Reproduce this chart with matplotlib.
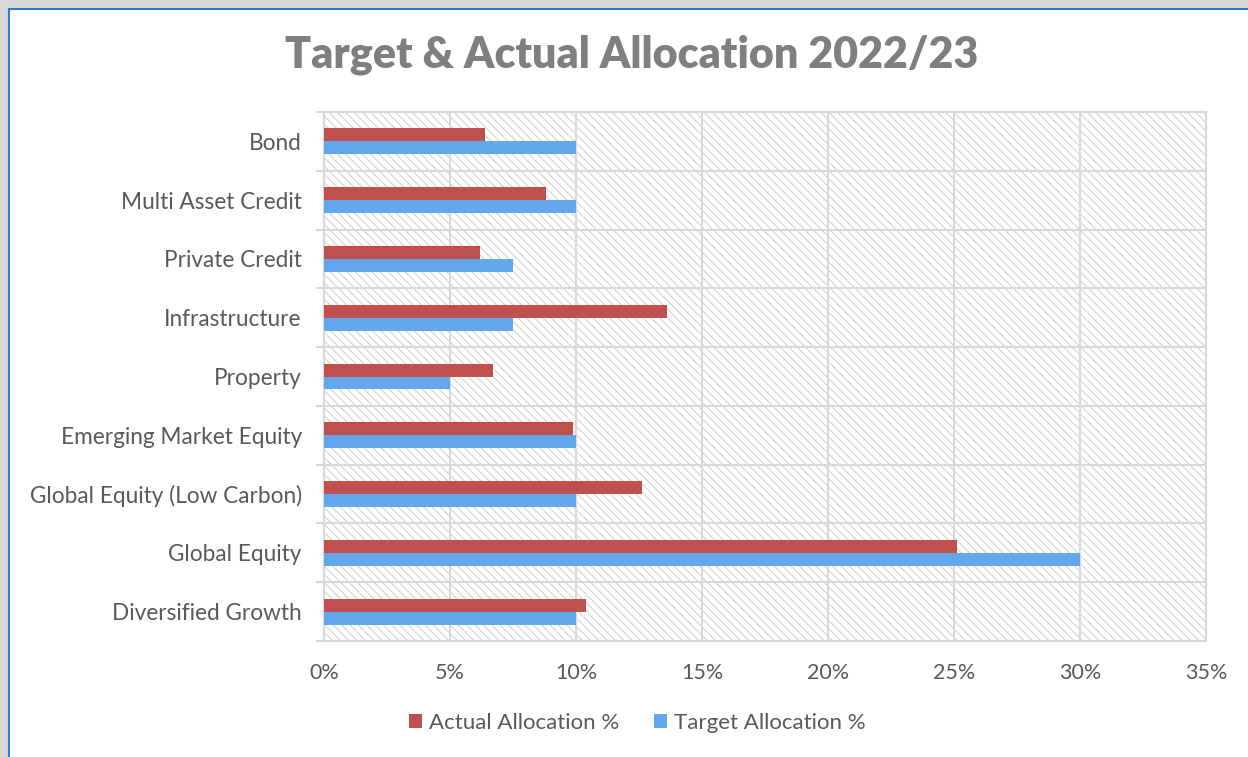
import matplotlib
matplotlib.use("Agg")
import matplotlib.pyplot as plt
from matplotlib.patches import Rectangle, Patch
from matplotlib.ticker import FuncFormatter, MultipleLocator
import numpy as np

categories = ["Diversified Growth", "Global Equity", "Global Equity (Low Carbon)",
              "Emerging Market Equity", "Property", "Infrastructure",
              "Private Credit", "Multi Asset Credit", "Bond"]
actual = [10.4, 25.1, 12.6, 9.9, 6.7, 13.6, 6.2, 8.8, 6.4]
target = [10.0, 30.0, 10.0, 10.0, 5.0, 7.5, 7.5, 10.0, 10.0]
series_names = ["Actual Allocation %", "Target Allocation %"]
title = "Target & Actual Allocation 2022/23"

RED = "#c0504d"
BLUE = "#62a7ec"
GRID = "#d9d9d9"
TXT = "#595959"

plt.rcParams['font.family'] = ['Lato', 'DejaVu Sans']
plt.rcParams['hatch.linewidth'] = 0.6

fig = plt.figure(figsize=(12.48, 7.57), dpi=100)
fig.patch.set_facecolor("#d9d9d9")
W, H = 1248, 757
panel = Rectangle((9 / W, -0.05), 1.1, 1 - 9 / H + 0.05, transform=fig.transFigure,
                  facecolor="white", edgecolor="#2e7bcf", linewidth=1.5, zorder=-10)
fig.patches.append(panel)

ax = fig.add_axes([324 / W, 1 - 641 / H, (1206 - 324) / W, (641 - 112) / H])
ax.set_facecolor("white")
ax.set_xlim(0, 35)
ax.set_ylim(-0.5, len(categories) - 0.5)

bg = Rectangle((0, -0.5), 35, len(categories), facecolor="white", edgecolor="#c8c8c8",
               hatch="\\\\\\\\", linewidth=0, zorder=0)
ax.add_patch(bg)

y = np.arange(len(categories))
h = 0.22
ax.barh(y + h / 2, actual, height=h, color=RED, zorder=3, label=series_names[0])
ax.barh(y - h / 2, target, height=h, color=BLUE, zorder=3, label=series_names[1])

ax.xaxis.set_major_locator(MultipleLocator(5))
ax.xaxis.set_major_formatter(FuncFormatter(lambda v, p: f"{v:.0f}%"))
ax.set_yticks(y)
ax.set_yticklabels(categories)
ax.set_yticks(np.arange(-0.5, len(categories), 1), minor=True)

ax.grid(axis="x", which="major", color=GRID, linewidth=1.5, zorder=1)
ax.grid(axis="y", which="minor", color=GRID, linewidth=1.5, zorder=1)
ax.set_axisbelow(True)

ax.tick_params(axis="y", which="major", length=0, pad=16, labelsize=16.3, labelcolor=TXT)
ax.tick_params(axis="y", which="minor", length=6, color=GRID, width=1.5)
ax.tick_params(axis="x", which="major", length=0, pad=16, labelsize=15.5, labelcolor=TXT)
for s in ax.spines.values():
    s.set_color(GRID)
    s.set_linewidth(1.5)

fig.text(632 / W, 1 - 55 / H, title, ha="center", va="center", fontsize=31,
         fontweight="heavy", color="#7f7f7f")

handles = [Patch(facecolor=RED), Patch(facecolor=BLUE)]
leg = fig.legend(handles, series_names, loc="center", bbox_to_anchor=(637 / W, 1 - 723 / H),
                 ncol=2, frameon=False, fontsize=16, handlelength=0.6, handleheight=0.6,
                 handletextpad=0.3, columnspacing=1.55)
for t in leg.get_texts():
    t.set_color(TXT)

fig.savefig("out.png", dpi=100, facecolor=fig.get_facecolor())
